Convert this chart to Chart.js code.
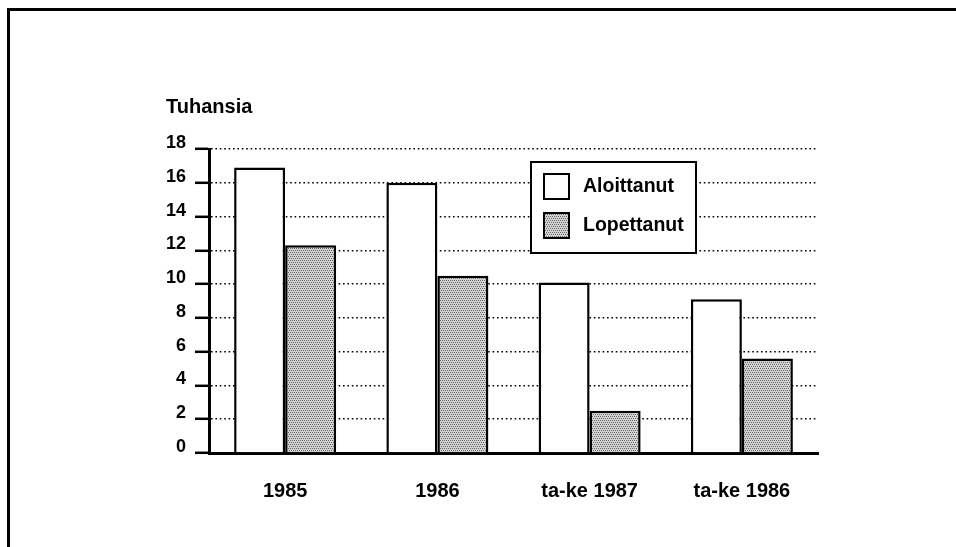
<!DOCTYPE html>
<html>
<head>
<meta charset="utf-8">
<script src="https://cdn.jsdelivr.net/npm/chart.js@4.4.0/dist/chart.umd.min.js"></script>
<style>
  html, body { margin: 0; padding: 0; background: #fff; }
  #wrap { width: 956px; height: 547px; position: relative; }
</style>
</head>
<body>
<div id="wrap"><canvas id="chart" width="956" height="547"></canvas></div>
<script>
// data (thousands)
const categories = ["1985", "1986", "ta-ke 1987", "ta-ke 1986"];
const aloittanut = [16.9, 16.0, 10.1, 9.1];
const lopettanut = [12.3, 10.5, 2.5, 5.6];
const yTicks = [0, 2, 4, 6, 8, 10, 12, 14, 16, 18];
const unitLabel = "Tuhansia";

const FONT = "'Liberation Sans', Arial, sans-serif";

// stippled grey fill for the second series
function makeStipple() {
  const c = document.createElement("canvas");
  c.width = 4; c.height = 4;
  const g = c.getContext("2d");
  g.fillStyle = "#d2d2d2";
  g.fillRect(0, 0, 4, 4);
  g.fillStyle = "#6a6a6a";
  g.fillRect(0, 0, 1, 1);
  g.fillRect(2, 0, 1, 1);
  g.fillRect(1, 2, 1, 1);
  g.fillRect(3, 2, 1, 1);
  return g.createPattern(c, "repeat");
}
const stipple = makeStipple();

// frame (top + left edge) and the "Tuhansia" caption
const framePlugin = {
  id: "frame",
  afterDraw(chart) {
    const ctx = chart.ctx;
    ctx.save();
    ctx.strokeStyle = "#000";
    ctx.lineWidth = 3;
    ctx.beginPath();
    ctx.moveTo(8.5, 547);
    ctx.lineTo(8.5, 9.5);
    ctx.lineTo(956, 9.5);
    ctx.stroke();
    ctx.fillStyle = "#000";
    ctx.font = "bold 20px " + FONT;
    ctx.textBaseline = "alphabetic";
    ctx.textAlign = "left";
    ctx.fillText(unitLabel, 166, 113);
    ctx.restore();
  }
};

// boxed legend inside the plot area
const boxLegend = {
  id: "boxLegend",
  afterDraw(chart) {
    const ctx = chart.ctx;
    const box = { x: 531, y: 162, w: 165, h: 91 };
    ctx.save();
    ctx.fillStyle = "#fff";
    ctx.fillRect(box.x, box.y, box.w, box.h);
    ctx.strokeStyle = "#000";
    ctx.lineWidth = 2;
    ctx.strokeRect(box.x, box.y, box.w, box.h);
    ctx.font = "bold 19.5px " + FONT;
    ctx.textBaseline = "middle";
    ctx.textAlign = "left";
    chart.data.datasets.forEach(function(ds, i) {
      const sy = 174 + i * 39;
      ctx.fillStyle = ds.backgroundColor;
      ctx.fillRect(544, sy, 25, 25);
      ctx.strokeRect(544, sy, 25, 25);
      ctx.fillStyle = "#000";
      ctx.fillText(ds.label, 583, sy + 13);
    });
    ctx.restore();
  }
};

new Chart(document.getElementById("chart").getContext("2d"), {
  type: "bar",
  data: {
    labels: categories,
    datasets: [
      {
        label: "Aloittanut",
        data: aloittanut,
        backgroundColor: "#ffffff",
        borderColor: "#000",
        borderWidth: 2.5
      },
      {
        label: "Lopettanut",
        data: lopettanut,
        backgroundColor: stipple,
        borderColor: "#000",
        borderWidth: 2.5
      }
    ]
  },
  options: {
    responsive: false,
    animation: false,
    layout: { padding: { left: 130, top: 149, right: 138, bottom: 0 } },
    datasets: { bar: { categoryPercentage: 0.67, barPercentage: 1.0 } },
    plugins: {
      legend: { display: false },
      tooltip: { enabled: false },
      title: { display: false }
    },
    scales: {
      x: {
        grid: { display: false },
        border: { display: true, color: "#000", width: 3 },
        ticks: { color: "#000", padding: 18, font: { family: FONT, size: 20, weight: "bold" } },
        afterFit: function(s) { s.height = 94; }
      },
      y: {
        min: 0,
        max: 18,
        afterBuildTicks: function(s) { s.ticks = yTicks.map(v => ({ value: v })); },
        grid: {
          color: "#000",
          lineWidth: 1.6,
          drawTicks: true,
          tickLength: 14,
          tickColor: "#000",
          tickWidth: 2.5,
          tickBorderDash: []
        },
        border: { display: true, color: "#000", width: 3, dash: [1.6, 2.8] },
        ticks: { color: "#000", padding: 9, labelOffset: -6, font: { family: FONT, size: 18, weight: "bold" } },
        afterFit: function(s) { s.width = 79; }
      }
    }
  },
  plugins: [framePlugin, boxLegend]
});
</script>
</body>
</html>
